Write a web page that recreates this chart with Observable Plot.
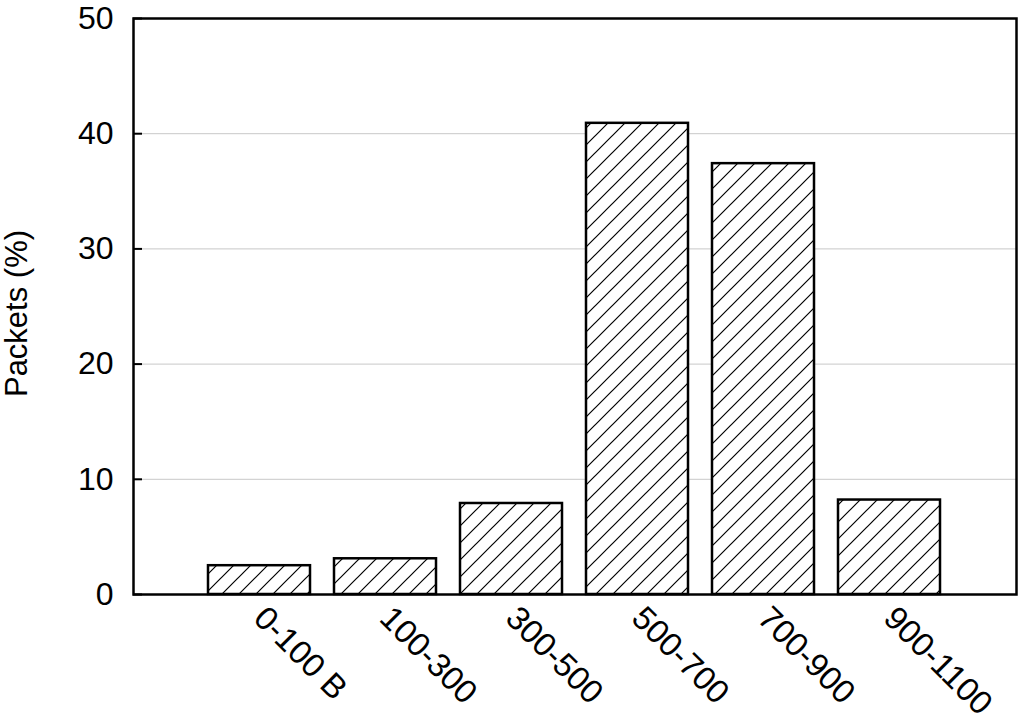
<!DOCTYPE html>
<html>
<head>
<meta charset="utf-8">
<script src="https://cdn.jsdelivr.net/npm/d3@7"></script>
<script src="https://cdn.jsdelivr.net/npm/@observablehq/plot@0.6"></script>
<style>
  html, body { margin: 0; padding: 0; background: #fff; }
  svg { font-family: "Liberation Sans", Arial, sans-serif; }
</style>
</head>
<body>
<div id="chart"></div>
<script>
const categories = ["0-100 B", "100-300", "300-500", "500-700", "700-900", "900-1100"];
const values = [2.5, 3.1, 7.9, 40.9, 37.4, 8.2];
const yTicks = [0, 10, 20, 30, 40, 50];
const yLabel = "Packets (%)";

const data = categories.map((c, i) => ({category: c, value: values[i]}));

const chart = Plot.plot({
  width: 1024,
  height: 728,
  marginLeft: 133,
  marginRight: 8,
  marginTop: 18,
  marginBottom: 134,
  style: {fontFamily: "'Liberation Sans', Arial, sans-serif", color: "#000", background: "#fff"},
  x: {domain: categories, paddingInner: 0.19, paddingOuter: 0.595, label: null},
  y: {domain: [0, 50], label: null},
  marks: [
    Plot.gridY(yTicks.slice(1, -1), {stroke: "#c8c8c8", strokeOpacity: 1, strokeWidth: 1}),
    Plot.barY(data, {x: "category", y: "value", fill: "white", stroke: "black", strokeWidth: 2.5}),
    Plot.axisY(yTicks, {tickSize: 0, tickPadding: 20, fontSize: 32, label: null}),
    Plot.axisY(yTicks, {tickSize: 9, dx: 9, tickFormat: () => "", label: null, strokeWidth: 2}),
    Plot.axisX({tickSize: 0, tickRotate: 45, tickPadding: 18, fontSize: 33, label: null}),
    Plot.frame({stroke: "black", strokeWidth: 2.5}),
    Plot.text([yLabel], {frameAnchor: "left", textAnchor: "middle", dx: -116, dy: 7, rotate: -90, fontSize: 31, fill: "black"})
  ]
});

// hatch pattern
const ns = "http://www.w3.org/2000/svg";
const defs = document.createElementNS(ns, "defs");
const pat = document.createElementNS(ns, "pattern");
pat.setAttribute("id", "hatch");
pat.setAttribute("patternUnits", "userSpaceOnUse");
pat.setAttribute("width", "17");
pat.setAttribute("height", "17");
const bg = document.createElementNS(ns, "rect");
bg.setAttribute("width", "17"); bg.setAttribute("height", "17"); bg.setAttribute("fill", "white");
pat.appendChild(bg);
const p = document.createElementNS(ns, "path");
p.setAttribute("d", "M0,17L17,0M-3,3L3,-3M14,20L20,14");
p.setAttribute("stroke", "black");
p.setAttribute("stroke-width", "1.2");
pat.appendChild(p);
defs.appendChild(pat);
chart.insertBefore(defs, chart.firstChild);
chart.querySelectorAll('g[aria-label="bar"]').forEach(g => {
  g.setAttribute("fill", "url(#hatch)");
  g.querySelectorAll("rect").forEach(r => r.setAttribute("fill", "url(#hatch)"));
});

document.getElementById("chart").appendChild(chart);
</script>
</body>
</html>
